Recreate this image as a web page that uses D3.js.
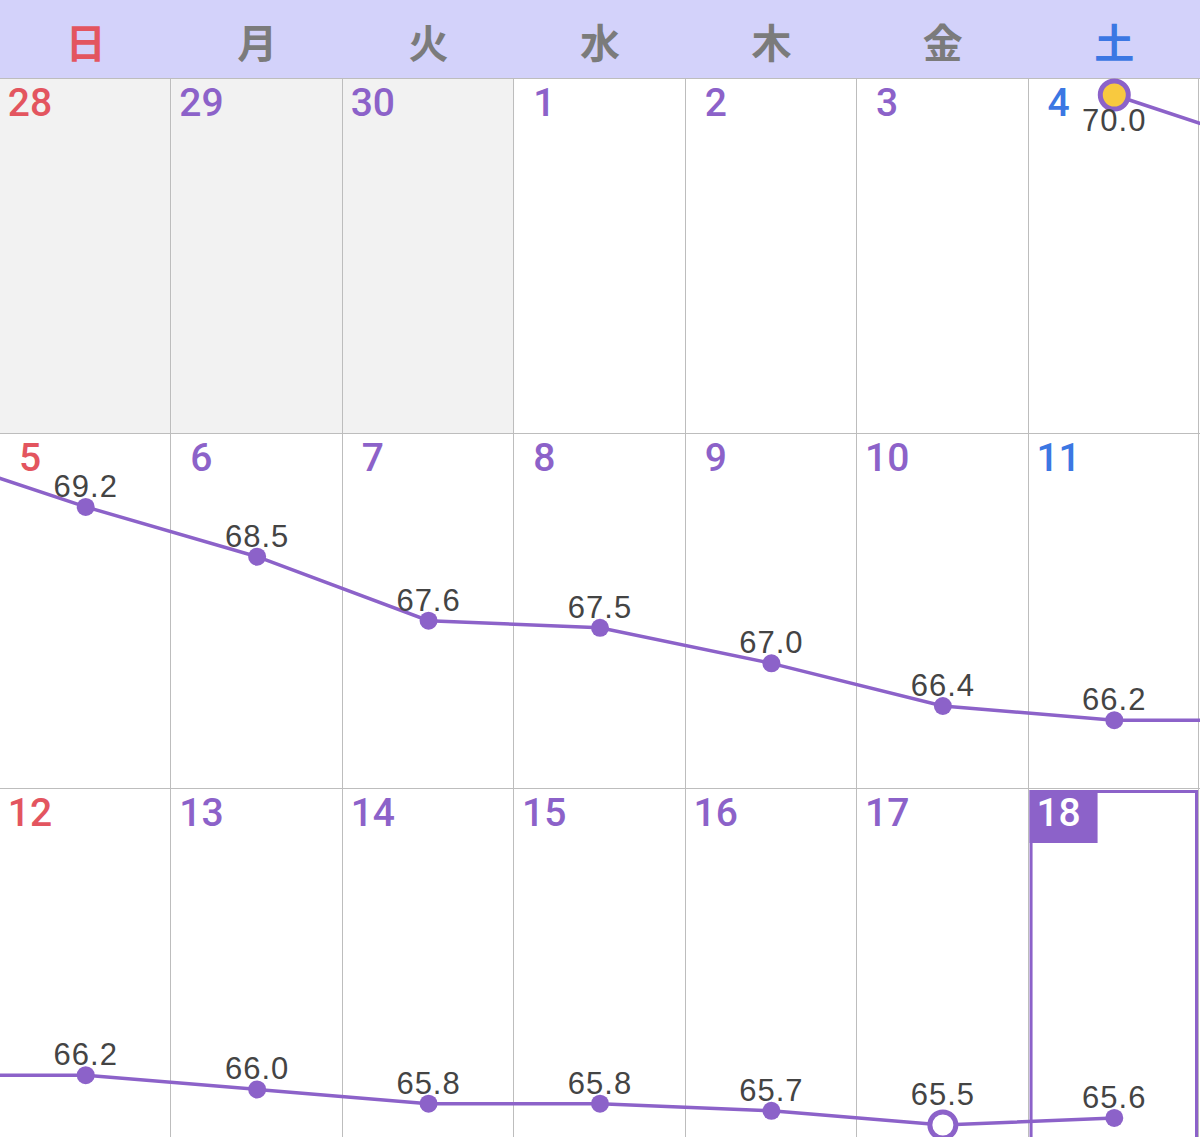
<!DOCTYPE html>
<html>
<head>
<meta charset="utf-8">
<script src="https://cdn.jsdelivr.net/npm/d3@7"></script>
<style>
  body { margin: 0; background: #fff; }
  svg { display: block; }
</style>
</head>
<body>
<div id="container"></div>
<script>
/* CONSTANTS AND GLOBALS */
const width = 1200;
const height = 1137;
const headerH = 78;
const rowH = 355;

const purple = "#8c62c9";
const red = "#e3555f";
const blue = "#3b77e3";

/* DATA */
const weekdays = ["日", "月", "火", "水", "木", "金", "土"];
const days = [28, 29, 30, 1, 2, 3, 4, 5, 6, 7, 8, 9, 10, 11, 12, 13, 14, 15, 16, 17, 18];
const prevMonth = [true, true, true, false, false, false, false, false, false, false, false, false, false, false, false, false, false, false, false, false, false];
const weights = [null, null, null, null, null, null, 70.0, 69.2, 68.5, 67.6, 67.5, 67.0, 66.4, 66.2, 66.2, 66.0, 65.8, 65.8, 65.7, 65.5, 65.6];
const todayIndex = 20;
const startIndex = 6;
const hollowIndex = 19;

const cells = days.map((d, i) => ({
  i, day: d, prev: prevMonth[i], w: weights[i],
  row: Math.floor(i / 7), col: i % 7
}));
const nRows = Math.ceil(days.length / 7);

const svg = d3.select("#container")
  .append("svg")
  .attr("width", width)
  .attr("height", height)
  .style("font-family", "Roboto, 'Liberation Sans', sans-serif");

const xScale = d3.scaleBand()
  .domain(d3.range(7))
  .range([0, width]);
const cellW = xScale.bandwidth();

// continuous position in "cells" so the line can run past the row edges
const xPos = d3.scaleLinear().domain([0, 7]).range([0, width]);

const yScale = d3.scaleLinear()
  .domain([70.0, 65.5])
  .range([17, 337]);

const rowTop = r => headerH + r * rowH;

function dayColor(col) {
  return col === 0 ? red : col === 6 ? blue : purple;
}

/* HEADER */
svg.append("rect")
  .attr("x", 0).attr("y", 0)
  .attr("width", width).attr("height", headerH)
  .attr("fill", "#d3d2fa");

svg.selectAll(".wd")
  .data(weekdays)
  .join("text")
  .attr("class", "wd")
  .attr("x", (d, i) => xScale(i) + cellW / 2)
  .attr("y", 58)
  .attr("text-anchor", "middle")
  .attr("font-family", "'Noto Sans CJK JP', sans-serif")
  .attr("font-weight", 700)
  .attr("font-size", 40)
  .attr("fill", (d, i) => i === 0 ? red : i === 6 ? blue : "#7b7b7b")
  .text(d => d);

/* CELLS */
svg.selectAll(".cell")
  .data(cells)
  .join("rect")
  .attr("class", "cell")
  .attr("x", d => xScale(d.col))
  .attr("y", d => rowTop(d.row))
  .attr("width", cellW)
  .attr("height", rowH)
  .attr("fill", d => d.prev ? "#f2f2f2" : "#fff");

// grid lines
svg.selectAll(".vline")
  .data(d3.range(1, 8))
  .join("line")
  .attr("class", "vline")
  .attr("x1", d => Math.min(Math.round(xPos(d)) - 0.5, width - 1.5))
  .attr("x2", d => Math.min(Math.round(xPos(d)) - 0.5, width - 1.5))
  .attr("y1", headerH)
  .attr("y2", height)
  .attr("stroke", "#bdbdbd")
  .attr("stroke-width", 1);

svg.selectAll(".hline")
  .data(d3.range(nRows))
  .join("line")
  .attr("class", "hline")
  .attr("x1", 0).attr("x2", width)
  .attr("y1", d => rowTop(d) + 0.5)
  .attr("y2", d => rowTop(d) + 0.5)
  .attr("stroke", "#bdbdbd");

/* TODAY */
const today = cells[todayIndex];
svg.append("rect")
  .attr("x", xScale(today.col) + 2.5)
  .attr("y", rowTop(today.row) + 3.5)
  .attr("width", cellW - 6)
  .attr("height", rowH)
  .attr("fill", "none")
  .attr("stroke", purple)
  .attr("stroke-width", 3);
svg.append("rect")
  .attr("x", xScale(today.col) + 1)
  .attr("y", rowTop(today.row) + 2)
  .attr("width", 68)
  .attr("height", 53)
  .attr("fill", purple);

/* DATE NUMBERS */
svg.selectAll(".daynum")
  .data(cells)
  .join("text")
  .attr("class", "daynum")
  .attr("x", d => xScale(d.col) + 30)
  .attr("y", d => rowTop(d.row) + 38)
  .attr("text-anchor", "middle")
  .attr("font-size", 39)
  .attr("font-weight", 500)
  .attr("fill", d => d.i === todayIndex ? "#fff" : dayColor(d.col))
  .text(d => d.day);

/* WEIGHT LINE, drawn per row and clipped to it */
const pts = cells.filter(d => d.w != null);
const dotR = d => d.i === startIndex ? 14 : d.i === hollowIndex ? 13 : 9;

d3.range(nRows).forEach(r => {
  const top = rowTop(r);
  const clipId = "clip-row-" + r;
  svg.append("clipPath")
    .attr("id", clipId)
    .append("rect")
    .attr("x", 0).attr("y", top)
    .attr("width", width).attr("height", rowH);

  const g = svg.append("g").attr("clip-path", `url(#${clipId})`);

  const line = d3.line()
    .x(d => xPos(d.i - 7 * r + 0.5))
    .y(d => top + yScale(d.w));

  g.append("path")
    .datum(pts)
    .attr("d", line)
    .attr("fill", "none")
    .attr("stroke", purple)
    .attr("stroke-width", 3.5);

  const rowPts = pts.filter(d => d.row === r);

  g.selectAll(".dot")
    .data(rowPts)
    .join("circle")
    .attr("class", "dot")
    .attr("cx", d => xPos(d.col + 0.5))
    .attr("cy", d => top + yScale(d.w))
    .attr("r", dotR)
    .attr("fill", d => d.i === startIndex ? "#f8c93f" : d.i === hollowIndex ? "#fff" : purple)
    .attr("stroke", purple)
    .attr("stroke-width", d => d.i === startIndex || d.i === hollowIndex ? 5 : 0);

  g.selectAll(".val")
    .data(rowPts)
    .join("text")
    .attr("class", "val")
    .attr("x", d => xPos(d.col + 0.5))
    .attr("y", d => {
      const y = top + yScale(d.w);
      return y - top < 40 ? y + 36 : y - dotR(d) - 1 - (d.i === hollowIndex ? 6 : 0);
    })
    .attr("text-anchor", "middle")
    .attr("font-family", "'Liberation Sans', Arial, sans-serif")
    .attr("font-size", 31)
    .attr("letter-spacing", 1)
    .attr("fill", "#444")
    .text(d => d3.format(".1f")(d.w));
});
</script>
</body>
</html>
